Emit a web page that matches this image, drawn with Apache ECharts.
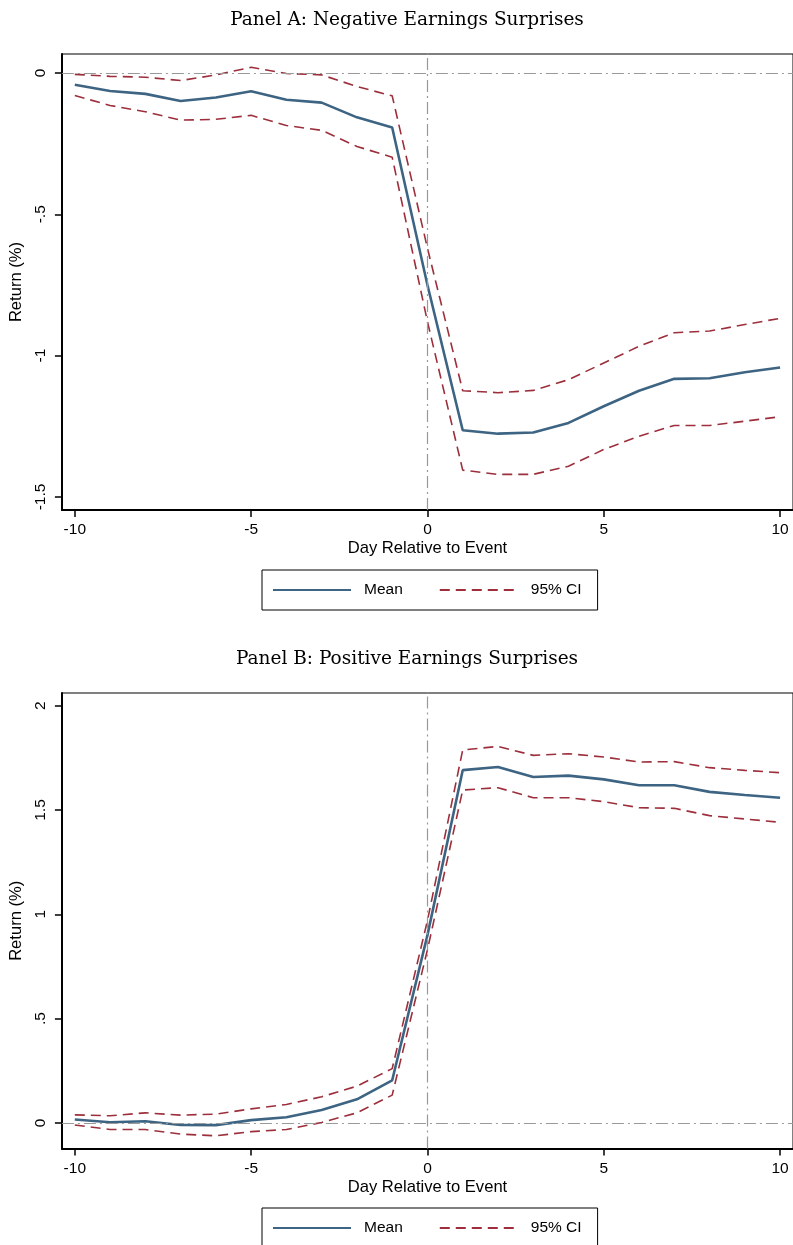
<!DOCTYPE html>
<html>
<head>
<meta charset="utf-8">
<script src="https://cdn.jsdelivr.net/npm/echarts@6/dist/echarts.min.js"></script>
<style>
  html, body { margin: 0; padding: 0; background: #fff; }
  #chart { width: 793px; height: 1245px; }
</style>
</head>
<body>
<div id="chart"></div>
<script>
// ---- data ----
var days = [-10, -9, -8, -7, -6, -5, -4, -3, -2, -1, 0, 1, 2, 3, 4, 5, 6, 7, 8, 9, 10];

var meanA  = [-0.042, -0.064, -0.074, -0.099, -0.087, -0.065, -0.095, -0.105, -0.157, -0.193, -0.75,
              -1.264, -1.276, -1.272, -1.238, -1.179, -1.124, -1.082, -1.080, -1.059, -1.042];
var upperA = [-0.005, -0.012, -0.015, -0.027, -0.007, 0.020, -0.002, -0.007, -0.048, -0.081, -0.62,
              -1.124, -1.131, -1.123, -1.085, -1.026, -0.967, -0.919, -0.913, -0.890, -0.868];
var lowerA = [-0.080, -0.115, -0.137, -0.167, -0.164, -0.150, -0.186, -0.203, -0.260, -0.298, -0.88,
              -1.405, -1.420, -1.420, -1.391, -1.332, -1.285, -1.247, -1.247, -1.232, -1.216];

var meanB  = [0.016, 0.003, 0.008, -0.010, -0.011, 0.013, 0.027, 0.062, 0.113, 0.204, 0.90,
              1.691, 1.706, 1.658, 1.665, 1.647, 1.619, 1.619, 1.587, 1.572, 1.559];
var upperB = [0.038, 0.034, 0.048, 0.037, 0.042, 0.067, 0.088, 0.125, 0.176, 0.26, 0.97,
              1.788, 1.805, 1.762, 1.770, 1.754, 1.730, 1.732, 1.703, 1.690, 1.679];
var lowerB = [-0.010, -0.032, -0.032, -0.054, -0.062, -0.042, -0.032, 0.002, 0.048, 0.133, 0.83,
              1.596, 1.607, 1.559, 1.559, 1.540, 1.511, 1.508, 1.473, 1.457, 1.441];

var xTicks = [-10, -5, 0, 5, 10];
var xTickLabels = ['-10', '-5', '0', '5', '10'];
var yTicksA = [-1.5, -1, -0.5, 0];
var yTickLabelsA = ['-1.5', '-1', '-.5', '0'];
var yTicksB = [0, 0.5, 1, 1.5, 2];
var yTickLabelsB = ['0', '.5', '1', '1.5', '2'];

var titleA = 'Panel A: Negative Earnings Surprises';
var titleB = 'Panel B: Positive Earnings Surprises';
var xName = 'Day Relative to Event';
var yName = 'Return (%)';
var meanName = 'Mean';
var ciName = '95% CI';

// ---- styles ----
var SANS = 'Liberation Sans, Arial, Helvetica, sans-serif';
var SERIF = 'DejaVu Serif, serif';
var MEAN_COLOR = '#3d6482';
var CI_COLOR = '#9c2f3b';
var REF_COLOR = '#999999';
var FS = 15.5;
var NFS = 16.6;

function pairs(xs, ys) { return xs.map(function (x, i) { return [x, ys[i]]; }); }
function labelFor(ticks, labels) {
  return function (v) {
    for (var i = 0; i < ticks.length; i++) if (Math.abs(ticks[i] - v) < 1e-9) return labels[i];
    return '';
  };
}

function xAxisDef(gi) {
  return {
    type: 'value', gridIndex: gi, min: -10.366, max: 10.366,
    name: xName, nameLocation: 'middle', nameGap: 30,
    nameTextStyle: { fontFamily: SANS, fontSize: NFS, color: '#000' },
    axisLine: { show: true, onZero: false, lineStyle: { color: '#000', width: 2 } },
    axisTick: { show: true, customValues: xTicks, length: 7, inside: false, lineStyle: { color: '#000', width: 1.5 } },
    axisLabel: { show: true, customValues: xTicks, margin: 12, fontFamily: SANS, fontSize: FS, color: '#000',
                 formatter: labelFor(xTicks, xTickLabels) },
    splitLine: { show: false }
  };
}
function yAxisDef(gi, mn, mx, ticks, labels) {
  return {
    type: 'value', gridIndex: gi, min: mn, max: mx,
    name: yName, nameLocation: 'middle', nameGap: 33, nameRotate: 90,
    nameTextStyle: { fontFamily: SANS, fontSize: NFS, color: '#000' },
    axisLine: { show: true, onZero: false, lineStyle: { color: '#000', width: 2 } },
    axisTick: { show: true, customValues: ticks, length: 7, inside: false, lineStyle: { color: '#000', width: 1.5 } },
    axisLabel: { show: true, customValues: ticks, rotate: 90, margin: 13, fontFamily: SANS, fontSize: FS, color: '#000',
                 formatter: labelFor(ticks, labels) },
    splitLine: { show: false }
  };
}

var refLines = {
  silent: true, symbol: 'none', label: { show: false },
  lineStyle: { color: REF_COLOR, width: 1.2, type: [12, 4, 2, 4] },
  data: [{ xAxis: 0 }, { yAxis: 0 }]
};

function seriesFor(gi, mean, upper, lower) {
  var base = { type: 'line', xAxisIndex: gi, yAxisIndex: gi, symbol: 'none', showSymbol: false, animation: false, z: 3 };
  return [
    Object.assign({}, base, { name: meanName, data: pairs(days, mean), z: 4,
      lineStyle: { color: MEAN_COLOR, width: 2.6 }, itemStyle: { color: MEAN_COLOR }, markLine: refLines }),
    Object.assign({}, base, { name: ciName, data: pairs(days, upper),
      lineStyle: { color: CI_COLOR, width: 1.6, type: [10, 6] }, itemStyle: { color: CI_COLOR } }),
    Object.assign({}, base, { name: ciName, data: pairs(days, lower),
      lineStyle: { color: CI_COLOR, width: 1.6, type: [10, 6] }, itemStyle: { color: CI_COLOR } })
  ];
}

function legendDef(top) {
  return {
    data: [meanName, ciName], left: 262, top: top, orient: 'horizontal',
    borderColor: '#000', borderWidth: 1, padding: [12, 16, 12, 10],
    itemGap: 36, itemWidth: 78, itemHeight: 14, selectedMode: false,
    itemStyle: { opacity: 0 },
    textStyle: { fontFamily: SANS, fontSize: FS, color: '#000', padding: [0, 0, 0, 8] }
  };
}

var chart = echarts.init(document.getElementById('chart'), null, { renderer: 'canvas' });
chart.setOption({
  backgroundColor: '#fff',
  animation: false,
  title: [
    { text: titleA, left: 402, top: 6, textAlign: 'center',
      textStyle: { fontFamily: SERIF, fontWeight: 'normal', fontSize: 18.5, color: '#000' } },
    { text: titleB, left: 402, top: 645, textAlign: 'center',
      textStyle: { fontFamily: SERIF, fontWeight: 'normal', fontSize: 18.5, color: '#000' } }
  ],
  legend: [legendDef(570), legendDef(1208)],
  grid: [
    { left: 60, right: -3, top: 54, height: 456, show: true, borderColor: '#000', borderWidth: 1, backgroundColor: 'transparent' },
    { left: 60, right: -3, top: 693, height: 455.5, show: true, borderColor: '#000', borderWidth: 1, backgroundColor: 'transparent' }
  ],
  xAxis: [xAxisDef(0), xAxisDef(1)],
  yAxis: [
    yAxisDef(0, -1.546, 0.067, yTicksA, yTickLabelsA),
    yAxisDef(1, -0.123, 2.061, yTicksB, yTickLabelsB)
  ],
  series: seriesFor(0, meanA, upperA, lowerA).concat(seriesFor(1, meanB, upperB, lowerB))
});
</script>
</body>
</html>
